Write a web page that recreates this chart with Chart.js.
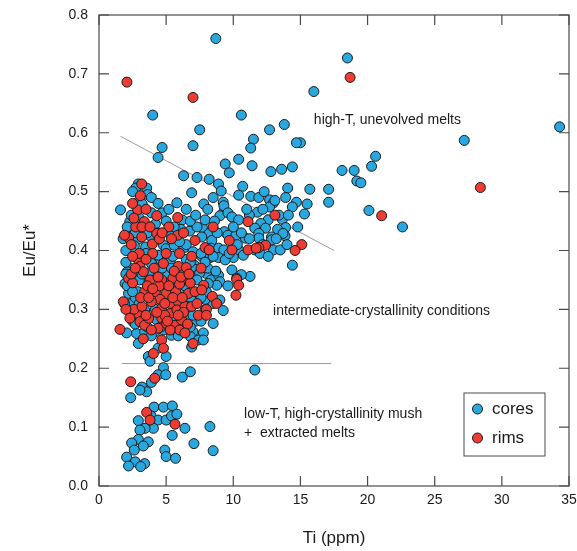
<!DOCTYPE html>
<html>
<head>
<meta charset="utf-8">
<script src="https://cdn.jsdelivr.net/npm/chart.js@4.4.1/dist/chart.umd.min.js"></script>
<style>
  html, body { margin: 0; padding: 0; background: #fff; }
  #wrap { width: 577px; height: 551px; }
</style>
</head>
<body>
<div id="wrap"><canvas id="euChart" width="577" height="551"></canvas></div>
<script>
// zircon cores (blue)
var coresTi = [
  8.7, 18.5, 16.0, 34.3, 27.2, 20.6, 20.3, 18.1, 19.0, 19.2, 19.5, 15.7, 17.1, 17.1, 15.5, 15.3, 20.1, 22.6, 15.0,
  4.0, 10.6, 7.5, 13.8, 12.7, 11.5, 11.3, 14.7, 4.7, 7.0, 4.4, 10.4, 9.4, 11.4, 9.7, 12.8, 13.6, 14.4,
  6.3, 7.3, 8.2, 8.9, 9.1, 10.7, 6.9, 10.4, 11.3, 14.05, 13.9, 14.7, 14.4, 12.7, 13.0, 12.7, 5.8, 7.8, 8.1,
  9.25, 9.3, 1.6, 3.9, 4.7, 11.8,
  2.93, 2.73, 3.55, 3.62, 2.88, 3.22, 6.2, 2.29, 2.98, 3.35, 5.36, 6.1, 6.75, 7.7, 8.2, 7.65, 2.3, 2.93, 8.4,
  4.8, 4.05, 5.0, 5.6, 6.35, 2.63, 3.48, 7.0, 7.65, 8.35, 3.3, 4.6, 3.9, 6.5, 7.1, 2.3,
  9.3, 13.1, 12.6, 13.65, 13.9, 13.85, 13.3, 12.85, 11.2, 12.05, 11.6, 12.4, 11.9, 9.0, 9.6, 9.9, 10.4, 7.9,
  9.33, 9.6, 10.2, 10.9, 11.9, 12.85, 13.0, 13.5, 14.4, 8.9, 9.3, 10.4, 11.6, 10.75, 8.9, 10.0, 9.4, 8.27,
  5.3, 7.15, 8.0, 4.3, 2.8, 5.1, 6.15, 7.0, 8.1, 8.35, 2.2, 2.9, 2.43, 3.4, 7.9, 8.5, 4.3, 6.5, 5.4,
  2.06, 2.8, 3.4, 2.93, 4.17, 7.0, 6.8, 7.77, 7.4, 6.9, 7.77, 4.4, 3.67, 5.0, 3.8, 8.5, 7.9,
  4.8, 4.4, 4.97, 3.9, 3.2, 3.55, 3.05, 2.36, 6.2, 6.8, 11.6,
  4.1, 4.8, 5.46, 3.87, 2.93, 4.4, 5.0, 5.4, 5.8, 6.4, 8.26, 4.05, 3.43, 3.05, 5.45, 2.93, 3.67, 3.3,
  2.43, 2.63, 7.07, 4.9, 5.0, 5.7, 8.5, 2.06, 2.7, 3.4, 2.2, 3.1,
  11.25, 10.6, 9.9, 8.9, 9.0, 8.76, 8.14, 9.0, 9.25, 10.25, 13.7, 2.1, 2.18, 1.94,
  2.6, 3.5, 4.4, 5.5, 6.2, 3.7, 4.9, 5.8, 6.9, 2.7, 3.3, 4.2, 5.6, 7.2, 6.2, 2.5, 3.9, 4.8,
  7.5, 6.5, 7.3, 5.0, 4.2, 3.8, 2.4, 2.0, 2.0, 1.9, 8.0, 8.7, 9.6, 7.6, 12.0, 13.2, 14.8,
  2.1, 2.5, 2.0, 2.4, 3.0, 3.2, 4.7, 5.4, 6.8, 7.9, 7.3, 6.4, 5.8, 7.6, 7.0, 6.6, 3.0, 2.7, 3.6, 4.6,
  5.9, 6.8, 7.6, 2.7, 3.6, 4.4, 5.6, 6.8, 7.2, 8.6, 8.8, 10.0, 10.6, 11.2, 12.2, 10.3, 11.0, 12.2, 13.4,
  14.1, 14.0, 12.6, 9.7, 8.5, 6.0, 2.1, 1.8, 2.5, 3.9, 4.4, 5.2, 6.5, 8.5, 11.9, 12.3
];
var coresEu = [
  0.760, 0.727, 0.670, 0.610, 0.587, 0.560, 0.543, 0.536, 0.536, 0.518, 0.515, 0.504, 0.504, 0.482, 0.479, 0.462, 0.468, 0.440, 0.583,
  0.630, 0.630, 0.605, 0.614, 0.605, 0.589, 0.574, 0.583, 0.575, 0.578, 0.558, 0.555, 0.547, 0.544, 0.532, 0.534, 0.538, 0.542,
  0.527, 0.524, 0.521, 0.513, 0.501, 0.509, 0.498, 0.494, 0.492, 0.506, 0.490, 0.482, 0.474, 0.486, 0.481, 0.474, 0.481, 0.479, 0.470,
  0.482, 0.466, 0.469, 0.464, 0.464, 0.465,
  0.513, 0.506, 0.506, 0.495, 0.482, 0.479, 0.452, 0.449, 0.456, 0.436, 0.425, 0.436, 0.433, 0.439, 0.429, 0.423, 0.423, 0.419, 0.417,
  0.409, 0.418, 0.403, 0.409, 0.405, 0.408, 0.406, 0.398, 0.390, 0.404, 0.385, 0.384, 0.378, 0.385, 0.375, 0.370,
  0.476, 0.485, 0.452, 0.453, 0.439, 0.425, 0.436, 0.423, 0.460, 0.446, 0.438, 0.438, 0.429, 0.459, 0.464, 0.457, 0.452, 0.452,
  0.432, 0.426, 0.426, 0.421, 0.421, 0.418, 0.401, 0.401, 0.375, 0.404, 0.401, 0.401, 0.401, 0.392, 0.388, 0.388, 0.384, 0.388,
  0.381, 0.368, 0.361, 0.364, 0.356, 0.358, 0.336, 0.356, 0.370, 0.350, 0.327, 0.330, 0.310, 0.299, 0.299, 0.276, 0.282, 0.285, 0.256,
  0.260, 0.259, 0.262, 0.242, 0.262, 0.262, 0.254, 0.260, 0.248, 0.236, 0.248, 0.234, 0.220, 0.220, 0.212, 0.310, 0.317,
  0.201, 0.189, 0.189, 0.176, 0.168, 0.160, 0.163, 0.150, 0.185, 0.194, 0.197,
  0.134, 0.134, 0.136, 0.119, 0.111, 0.112, 0.112, 0.119, 0.122, 0.098, 0.101, 0.098, 0.098, 0.095, 0.086, 0.079, 0.075, 0.068,
  0.073, 0.061, 0.072, 0.061, 0.050, 0.047, 0.060, 0.049, 0.041, 0.038, 0.034, 0.033,
  0.356, 0.359, 0.367, 0.358, 0.347, 0.341, 0.344, 0.316, 0.298, 0.353, 0.429, 0.364, 0.299, 0.344,
  0.395, 0.395, 0.392, 0.390, 0.365, 0.362, 0.345, 0.320, 0.315, 0.320, 0.350, 0.300, 0.285, 0.280, 0.270, 0.280, 0.255, 0.265,
  0.362, 0.410, 0.440, 0.450, 0.445, 0.425, 0.460, 0.400, 0.380, 0.310, 0.330, 0.365, 0.340, 0.395, 0.395, 0.420, 0.440,
  0.340, 0.330, 0.360, 0.350, 0.350, 0.360, 0.370, 0.370, 0.380, 0.380, 0.350, 0.340, 0.345, 0.320, 0.290, 0.305, 0.310, 0.275, 0.270, 0.270,
  0.255, 0.270, 0.280, 0.430, 0.430, 0.430, 0.440, 0.450, 0.460, 0.450, 0.430, 0.440, 0.430, 0.420, 0.410, 0.410, 0.470, 0.470, 0.460,
  0.460, 0.410, 0.390, 0.395, 0.390, 0.415, 0.440, 0.420, 0.500, 0.490, 0.480, 0.470, 0.470, 0.490, 0.490, 0.500
];

// zircon rims (red)
var rimsTi = [
  2.08, 7.0, 18.7, 28.4, 21.05, 15.1, 13.1, 3.18, 3.08, 2.88, 4.3, 5.86, 3.37, 2.73, 4.3, 5.86, 2.2, 3.18,
  7.15, 7.9, 3.97, 2.93, 5.9, 6.5, 3.05, 11.1, 8.5, 9.7, 12.4, 11.9, 14.6, 8.2, 9.9, 11.1,
  4.8, 3.3, 2.2, 3.8, 4.67, 5.5, 6.3, 7.8, 3.4, 4.2, 5.0, 5.7, 4.55, 6.65, 7.15, 7.65,
  3.9, 4.67, 5.3, 5.9, 5.3, 5.8, 6.4, 7.4, 2.9, 4.67, 3.05, 3.4, 5.0, 5.66, 6.15, 1.56,
  4.67, 4.4, 6.0, 7.0, 4.8, 4.05, 4.15, 2.36, 3.55, 3.8, 5.66,
  10.25, 10.4, 10.2, 8.44, 8.76, 8.0, 8.0, 11.7, 1.81, 1.9,
  2.5, 3.6, 4.5, 5.2, 6.0, 6.8, 2.6, 3.2, 4.9, 6.3, 3.7, 5.3, 3.0, 4.0, 5.0, 6.0, 6.9, 2.5,
  4.5, 5.2, 3.5, 2.5, 3.2,
  2.4, 2.7, 3.5, 4.1, 4.4, 5.6, 6.1, 6.7, 3.1, 3.7, 4.0, 4.9, 5.5, 6.2, 6.9, 3.5, 4.3, 5.1, 5.9, 6.6,
  3.3, 3.9, 6.4, 7.3, 2.4, 3.8, 4.7, 2.6, 5.4, 6.3, 7.6, 2.0, 2.3
];
var rimsEu = [
  0.686, 0.660, 0.694, 0.507, 0.459, 0.410, 0.460, 0.513, 0.493, 0.469, 0.459, 0.456, 0.449, 0.440, 0.429, 0.426, 0.422, 0.423,
  0.417, 0.405, 0.411, 0.384, 0.373, 0.371, 0.373, 0.449, 0.440, 0.417, 0.409, 0.405, 0.400, 0.401, 0.401, 0.401,
  0.378, 0.364, 0.353, 0.350, 0.350, 0.353, 0.350, 0.341, 0.330, 0.330, 0.327, 0.330, 0.317, 0.327, 0.330, 0.333,
  0.313, 0.302, 0.310, 0.313, 0.293, 0.299, 0.305, 0.290, 0.293, 0.285, 0.279, 0.273, 0.276, 0.273, 0.282, 0.266,
  0.248, 0.268, 0.265, 0.242, 0.234, 0.225, 0.183, 0.177, 0.125, 0.112, 0.105,
  0.351, 0.341, 0.324, 0.322, 0.310, 0.300, 0.290, 0.404, 0.313, 0.426,
  0.345, 0.340, 0.340, 0.340, 0.343, 0.345, 0.300, 0.305, 0.290, 0.295, 0.285, 0.265, 0.395, 0.395, 0.395, 0.395, 0.390, 0.390,
  0.420, 0.440, 0.470, 0.480, 0.440,
  0.360, 0.370, 0.385, 0.370, 0.355, 0.365, 0.355, 0.360, 0.320, 0.320, 0.335, 0.310, 0.320, 0.320, 0.305, 0.290, 0.295, 0.280, 0.290, 0.275,
  0.250, 0.265, 0.260, 0.310, 0.410, 0.440, 0.430, 0.455, 0.420, 0.430, 0.370, 0.300, 0.285
];

// field boundaries
var upperLineTi = [1.6, 17.5];
var upperLineEu = [0.594, 0.400];
var lowerLineTi = [1.7, 17.3];
var lowerLineEu = [0.208, 0.208];

// field labels, anchored at their left/middle in data units
var fieldText = ['high-T, unevolved melts', 'intermediate-crystallinity conditions', 'low-T, high-crystallinity mush', '+  extracted melts'];
var fieldTi = [16.0, 12.96, 10.8, 10.8];
var fieldEu = [0.622, 0.297, 0.122, 0.090];

var legendNames = ['cores', 'rims'];

var FONT = "'Liberation Sans', Arial, Helvetica, sans-serif";
var TEXT = '#1a1a1a';
var FRAME = '#4a4a4a';
var BLUE = '#29a8e0';
var RED = '#ee3b33';

function pts(xs, ys) {
    return xs.map(function(x, i) { return {x: x, y: ys[i]}; });
}

// frame with inward ticks on all sides, field labels and boxed legend
var decor = {
    id: 'decor',
    afterDraw: function(chart) {
        var ctx = chart.ctx;
        var a = chart.chartArea;
        var xs = chart.scales.x, ys = chart.scales.y;
        var tl = 10;
        ctx.save();
        ctx.strokeStyle = FRAME;
        ctx.lineWidth = 1.2;
        ctx.strokeRect(a.left, a.top, a.right - a.left, a.bottom - a.top);
        ctx.beginPath();
        xs.ticks.forEach(function(t) {
            var px = xs.getPixelForValue(t.value);
            ctx.moveTo(px, a.bottom); ctx.lineTo(px, a.bottom - tl);
            ctx.moveTo(px, a.top); ctx.lineTo(px, a.top + tl);
        });
        ys.ticks.forEach(function(t) {
            var py = ys.getPixelForValue(t.value);
            ctx.moveTo(a.left, py); ctx.lineTo(a.left + tl, py);
            ctx.moveTo(a.right, py); ctx.lineTo(a.right - tl, py);
        });
        ctx.stroke();

        ctx.fillStyle = TEXT;
        ctx.font = '14px ' + FONT;
        ctx.textAlign = 'left';
        ctx.textBaseline = 'middle';
        fieldText.forEach(function(s, i) {
            ctx.fillText(s, xs.getPixelForValue(fieldTi[i]), ys.getPixelForValue(fieldEu[i]));
        });

        // legend box
        var bx = a.right - 105, by = a.bottom - 93, bw = 81, bh = 63;
        ctx.fillStyle = '#fff';
        ctx.fillRect(bx, by, bw, bh);
        ctx.strokeStyle = FRAME;
        ctx.lineWidth = 1;
        ctx.strokeRect(bx, by, bw, bh);
        ctx.font = '17px ' + FONT;
        legendNames.forEach(function(name, i) {
            var ds = chart.data.datasets.filter(function(d) { return d.label === name; })[0];
            var cy = by + 16 + i * 29;
            ctx.beginPath();
            ctx.arc(bx + 13.5, cy, 5, 0, Math.PI * 2);
            ctx.fillStyle = ds.backgroundColor;
            ctx.fill();
            ctx.strokeStyle = '#1a1a1a';
            ctx.stroke();
            ctx.fillStyle = TEXT;
            ctx.fillText(name, bx + 28, cy);
        });
        ctx.restore();
    }
};

new Chart(document.getElementById('euChart'), {
    type: 'scatter',
    data: {
        datasets: [{
            label: 'rims',
            data: pts(rimsTi, rimsEu),
            backgroundColor: RED,
            borderColor: '#1a1a1a',
            borderWidth: 1,
            pointRadius: 5,
            order: 1
        }, {
            label: 'cores',
            data: pts(coresTi, coresEu),
            backgroundColor: BLUE,
            borderColor: '#1a1a1a',
            borderWidth: 1,
            pointRadius: 5,
            order: 2
        }, {
            type: 'line',
            data: pts(upperLineTi, upperLineEu),
            borderColor: '#9a9a9a',
            borderWidth: 1,
            pointRadius: 0,
            order: 5
        }, {
            type: 'line',
            data: pts(lowerLineTi, lowerLineEu),
            borderColor: '#9a9a9a',
            borderWidth: 1,
            pointRadius: 0,
            order: 5
        }]
    },
    options: {
        responsive: false,
        animation: false,
        layout: { padding: { top: 15, right: 8, left: 0, bottom: 0 } },
        plugins: {
            legend: { display: false },
            tooltip: { enabled: false }
        },
        scales: {
            x: {
                type: 'linear',
                min: 0,
                max: 35,
                ticks: { stepSize: 5, color: TEXT, padding: 6, font: { family: FONT, size: 14 } },
                grid: { display: false, drawTicks: false },
                border: { display: false },
                title: { display: true, text: 'Ti (ppm)', color: TEXT, font: { family: FONT, size: 17 }, padding: { top: 0, bottom: 2 } },
                afterFit: function(s) { s.height = 65; s.paddingLeft = 0; s.paddingRight = 0; }
            },
            y: {
                min: 0,
                max: 0.8,
                ticks: {
                    stepSize: 0.1,
                    color: TEXT,
                    padding: 11,
                    font: { family: FONT, size: 14 },
                    callback: function(v) { return v.toFixed(1); }
                },
                grid: { display: false, drawTicks: false },
                border: { display: false },
                title: { display: true, text: 'Eu/Eu*', color: TEXT, font: { family: FONT, size: 17 }, padding: { top: 20, bottom: 0 } },
                afterFit: function(s) { s.width = 99; s.paddingTop = 0; s.paddingBottom = 0; }
            }
        }
    },
    plugins: [decor]
});
</script>
</body>
</html>
